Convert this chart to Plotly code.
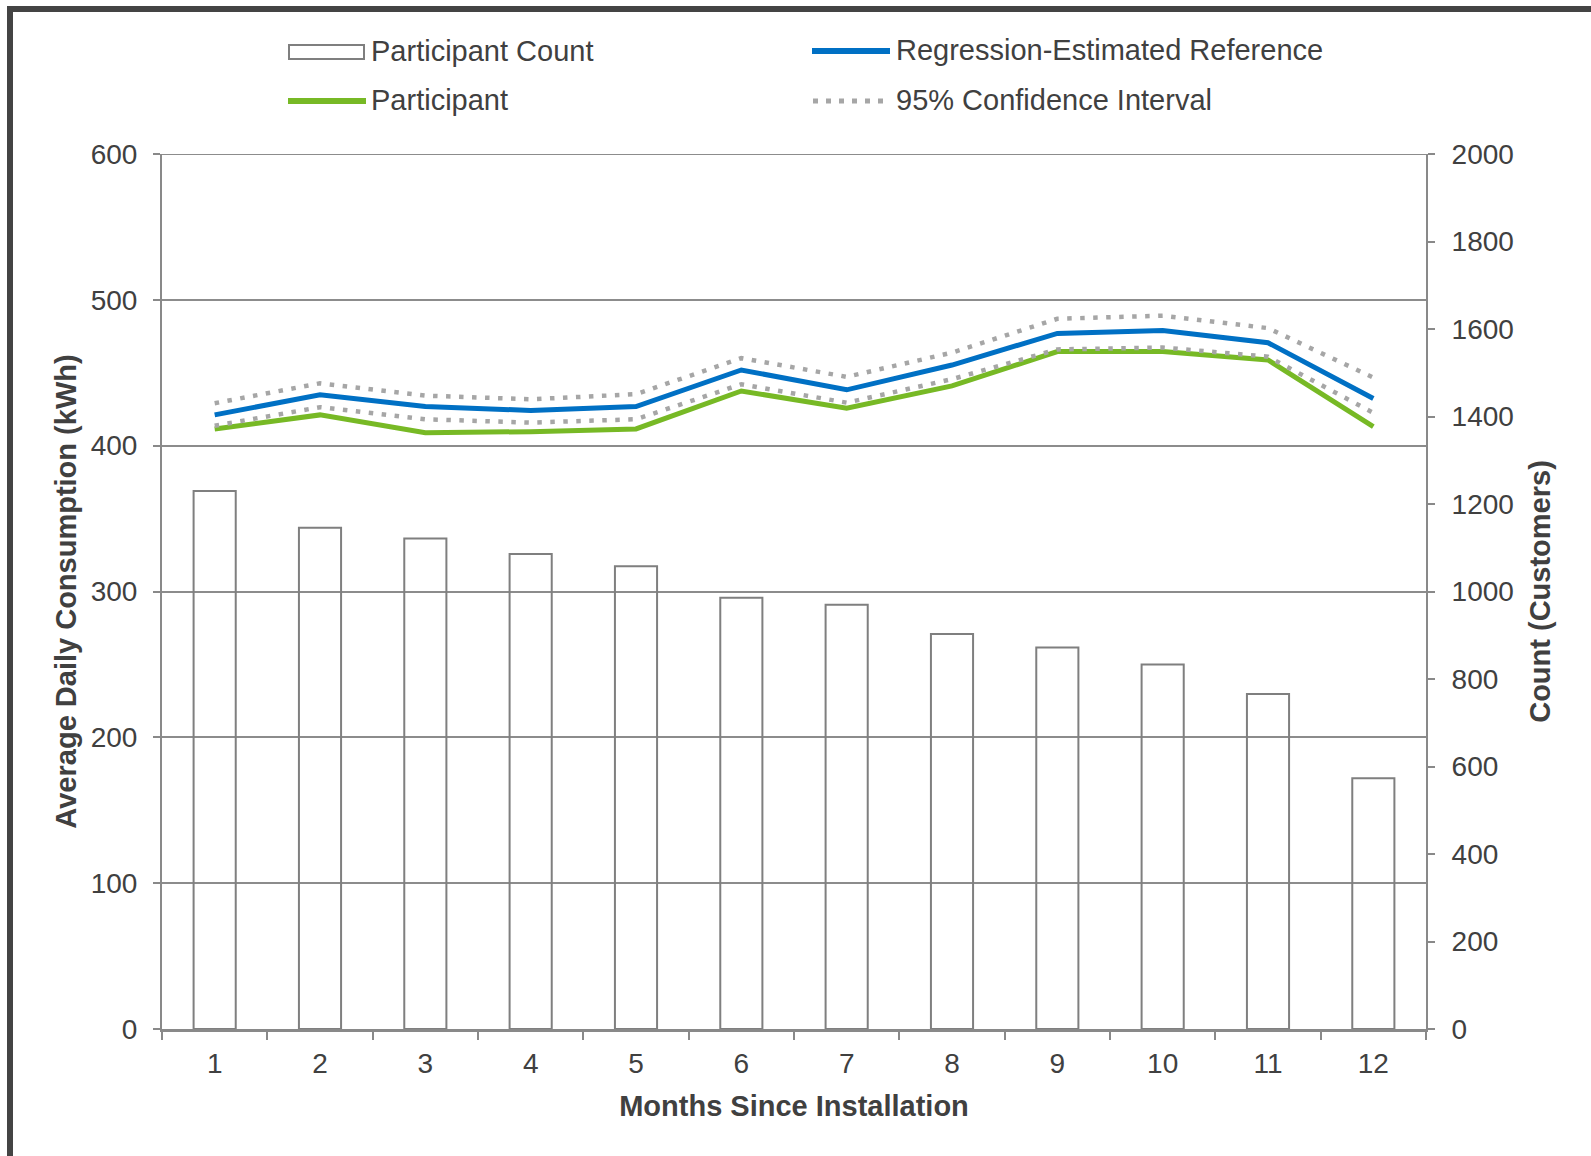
import plotly.graph_objects as go

# Months since installation (category axis)
months = [str(m) for m in range(1, 13)]

# Number of participating customers per month (right axis)
participant_count = [1230, 1146, 1121, 1086, 1058, 986, 970, 903, 872, 833, 766, 573]

# Average daily consumption, kWh (left axis)
reference_kwh = [421.1, 434.9, 426.8, 424.2, 426.8, 451.9, 438.3, 455.3, 477.0, 478.9, 470.6, 432.4]
participant_kwh = [411.5, 421.1, 408.9, 409.6, 411.5, 437.5, 425.7, 441.0, 464.5, 464.5, 458.8, 413.0]
ci_upper_kwh = [429.1, 442.8, 434.3, 431.8, 435.3, 460.0, 447.2, 463.8, 487.0, 489.1, 480.6, 446.7]
ci_lower_kwh = [413.7, 426.4, 418.1, 415.8, 418.1, 442.1, 429.5, 445.6, 466.0, 467.3, 461.0, 422.5]

# Legend labels
label_count = "Participant Count"
label_reference = "Regression-Estimated Reference"
label_participant = "Participant"
label_ci = "95% Confidence Interval"

FONT = "Liberation Sans, Arial, sans-serif"
TEXT = "#404040"
AXIS = "#898989"
GRID = "#8c8c8c"
BLUE = "#0070C4"
GREEN = "#77B925"
CI_GRAY = "#A6A6A6"
BAR_EDGE = "#7f7f7f"
FRAME = "#444444"

W, H = 1591, 1156
L, R, T, B = 162, 165, 154, 127
PW = W - L - R
PH = H - T - B


def px_x(px):
    """Pixel column -> paper x."""
    return (px - L) / PW


def px_y(py):
    """Pixel row -> paper y."""
    return (H - B - py) / PH


fig = go.Figure()

fig.add_trace(go.Bar(
    x=months, y=participant_count, yaxis="y2", width=0.4,
    marker=dict(color="rgba(255,255,255,0)", line=dict(color=BAR_EDGE, width=2)),
    name=label_count, showlegend=False,
))

fig.add_trace(go.Scatter(
    x=months, y=participant_kwh, mode="lines",
    line=dict(color=GREEN, width=5), name=label_participant, showlegend=False,
))
fig.add_trace(go.Scatter(
    x=months, y=reference_kwh, mode="lines",
    line=dict(color=BLUE, width=5), name=label_reference, showlegend=False,
))
for ci in (ci_upper_kwh, ci_lower_kwh):
    fig.add_trace(go.Scatter(
        x=months, y=ci, mode="lines",
        line=dict(color=CI_GRAY, width=4.5, dash="4.5px,8.5px"),
        name=label_ci, showlegend=False,
    ))

shapes = [
    # top gridline at the upper end of the left axis
    dict(type="line", xref="paper", yref="y", x0=0, x1=1, y0=600, y1=600,
         line=dict(color=GRID, width=2), layer="below"),
    # frame around the chart (top and left edges)
    dict(type="line", xref="paper", yref="paper",
         x0=px_x(10), x1=px_x(W + 5), y0=px_y(9), y1=px_y(9),
         line=dict(color=FRAME, width=6)),
    dict(type="line", xref="paper", yref="paper",
         x0=px_x(10), x1=px_x(10), y0=px_y(6), y1=px_y(H + 5),
         line=dict(color=FRAME, width=6)),
    # legend symbols
    dict(type="rect", xref="paper", yref="paper",
         x0=px_x(289), x1=px_x(364), y0=px_y(45), y1=px_y(59),
         line=dict(color=BAR_EDGE, width=2), fillcolor="white"),
    dict(type="line", xref="paper", yref="paper",
         x0=px_x(288), x1=px_x(366), y0=px_y(101), y1=px_y(101),
         line=dict(color=GREEN, width=6)),
    dict(type="line", xref="paper", yref="paper",
         x0=px_x(812), x1=px_x(890), y0=px_y(51), y1=px_y(51),
         line=dict(color=BLUE, width=6)),
    dict(type="line", xref="paper", yref="paper",
         x0=px_x(813), x1=px_x(886), y0=px_y(101), y1=px_y(101),
         line=dict(color=CI_GRAY, width=5, dash="5px,8px")),
]

legend_text = [
    (label_count, 369, 51),
    (label_participant, 369, 100),
    (label_reference, 894, 50),
    (label_ci, 894, 100),
]
annotations = [
    dict(text=t, xref="paper", yref="paper", x=px_x(x), y=px_y(y),
         xanchor="left", yanchor="middle", showarrow=False,
         font=dict(family=FONT, size=29, color=TEXT))
    for t, x, y in legend_text
]

tick_font = dict(family=FONT, size=28, color=TEXT)
title_font = dict(family=FONT, size=29, color=TEXT, weight="bold")

fig.update_layout(
    width=W, height=H,
    margin=dict(l=L, r=R, t=T, b=B, autoexpand=False),
    paper_bgcolor="white", plot_bgcolor="white",
    font=dict(family=FONT, color=TEXT),
    showlegend=False,
    shapes=shapes,
    annotations=annotations,
    xaxis=dict(
        type="category", range=[-0.5, 11.5], tickson="boundaries",
        ticks="outside", ticklen=8, tickwidth=2, tickcolor=AXIS,
        showline=True, linecolor=AXIS, linewidth=3,
        showgrid=False, zeroline=False, tickfont=tick_font,
        ticklabelstandoff=7,
        title=dict(text="Months Since Installation", font=title_font, standoff=19),
    ),
    yaxis=dict(
        range=[0, 600], dtick=100, tick0=0,
        ticks="outside", ticklen=7, tickwidth=2, tickcolor=AXIS,
        showline=True, linecolor=AXIS, linewidth=2,
        showgrid=True, gridcolor=GRID, gridwidth=2, zeroline=False,
        tickfont=tick_font, ticklabelstandoff=10,
        title=dict(text="Average Daily Consumption (kWh)", font=title_font, standoff=6),
    ),
    yaxis2=dict(
        overlaying="y", side="right", range=[0, 2000], dtick=200, tick0=0,
        ticks="outside", ticklen=7, tickwidth=2, tickcolor=AXIS,
        showline=True, linecolor=AXIS, linewidth=2,
        showgrid=False, zeroline=False,
        tickfont=tick_font, ticklabelstandoff=11,
        title=dict(text="Count (Customers)", font=title_font, standoff=17),
    ),
)

fig.write_html("out.html")
